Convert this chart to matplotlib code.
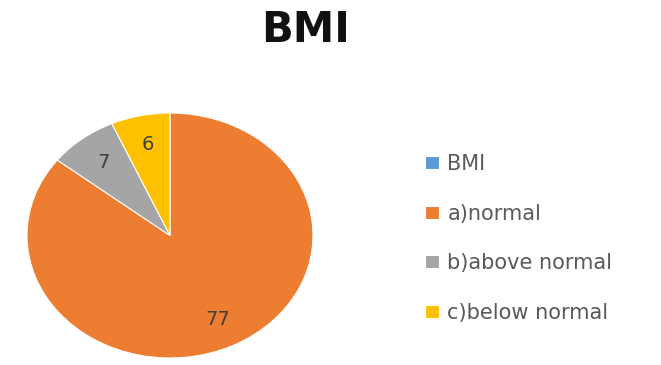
import matplotlib
matplotlib.use("Agg")
import matplotlib.pyplot as plt

# BMI categories and counts
categories = ['BMI', 'a)normal', 'b)above normal', 'c)below normal']
counts = [0, 77, 7, 6]
colors = ['#5B9BD5', '#ED7D31', '#A5A5A5', '#FFC000']

total = sum(counts)


def value_label(pct):
    # turn the percentage back into the count, skip the empty wedge
    val = int(round(pct * total / 100.0))
    return '' if val == 0 else str(val)


def main():
    W, H = 661, 365
    fig = plt.figure(figsize=(W / 100, H / 100), dpi=100)
    fig.patch.set_facecolor('white')

    # pie axes, stretched wider than tall
    ax = fig.add_axes([27 / W, 7 / H, 286 / W, 245 / H])
    wedges, texts, autotexts = ax.pie(
        counts, colors=colors, startangle=90, counterclock=False,
        autopct=value_label, pctdistance=0.76,
        wedgeprops=dict(edgecolor='white', linewidth=0.8),
        textprops=dict(fontsize=14, color='#404040'))
    ax.set_aspect('auto')
    ax.set_xlim(-1, 1)
    ax.set_ylim(-1, 1)

    fig.text(306 / W, 1 - 30 / H, 'BMI', ha='center', va='center',
             fontsize=30, fontweight='bold', color='#111111')

    fig.legend(wedges, categories, loc='upper left',
               bbox_to_anchor=(425 / W, 1 - 154 / H),
               frameon=False, fontsize=15, labelcolor='#595959',
               handlelength=0.68, handleheight=0.58, handletextpad=0.4,
               labelspacing=1.42, borderpad=0, borderaxespad=0)

    fig.savefig('out.png', dpi=100, facecolor='white')


if __name__ == "__main__":
    main()
